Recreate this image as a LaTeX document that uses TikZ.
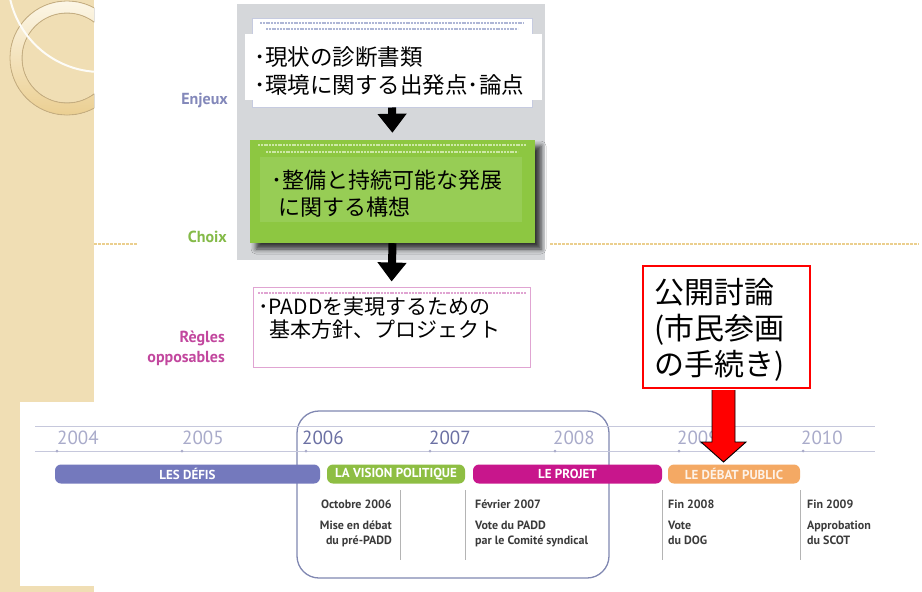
\documentclass[tikz,border=0pt]{standalone}
\usepackage{fontspec}
\setmainfont{PT Sans}
\newfontfamily\jp{Noto Sans CJK JP}
\usetikzlibrary{arrows.meta,shadows.blur,calc}
\definecolor{beige}{HTML}{F0DEB4}
\definecolor{ringlight}{HTML}{FCF6E6}
\definecolor{ringdark}{HTML}{EBCF92}
\definecolor{ringline}{HTML}{C6AE80}
\definecolor{goldline}{HTML}{EBCF8E}
\definecolor{panelgray}{HTML}{D5D7DA}
\definecolor{boxline}{HTML}{C6CBE0}
\definecolor{blurblue}{HTML}{AEB6D6}
\definecolor{greenbox}{HTML}{8DC741}
\definecolor{greeninner}{HTML}{97CD55}
\definecolor{blurgreen}{HTML}{CDE8A6}
\definecolor{enjeuxc}{HTML}{8388BA}
\definecolor{choixc}{HTML}{84BA48}
\definecolor{reglesc}{HTML}{C2479E}
\definecolor{pinkbox}{HTML}{E0A4D2}
\definecolor{tlline}{HTML}{C6C8DC}
\definecolor{yearlight}{HTML}{A9ABCA}
\definecolor{yeardark}{HTML}{6B70A3}
\definecolor{defisc}{HTML}{7479BD}
\definecolor{visionc}{HTML}{8EBE43}
\definecolor{projetc}{HTML}{C8168C}
\definecolor{debatc}{HTML}{F4A964}
\definecolor{framec}{HTML}{8188B2}
\definecolor{textdark}{HTML}{3B3B3B}
\definecolor{sepc}{HTML}{B4B4B4}
\begin{document}
\begin{tikzpicture}[x=1pt,y=-1pt,
  jptext/.style={inner sep=0pt, anchor=west, align=left, text=black, font=\jp\fontsize{21}{25}\selectfont},
  sidelabel/.style={inner sep=0pt, anchor=east, align=right, font=\bfseries\fontsize{16}{20}\selectfont},
  bigarrow/.style={line width=8pt, black, -{Triangle[width=28pt,length=19pt]}},
  bar/.style={rectangle, rounded corners=6pt, inner sep=0pt, minimum height=19pt, text=white, font=\bfseries\fontsize{13}{13}\selectfont},
  year/.style={inner sep=0pt, anchor=west, font=\fontsize{19}{19}\selectfont},
  datet/.style={inner sep=0pt, text=textdark, font=\bfseries\fontsize{12}{12}\selectfont},
  desct/.style={inner sep=0pt, text=textdark, font=\bfseries\fontsize{12}{14.5}\selectfont},
  sep/.style={sepc, line width=0.8pt},
  blurline/.style={line width=2.2pt, dash pattern=on 2pt off 0.8pt}
]
\useasboundingbox (0,0) rectangle (922,592);
\fill[white] (0,0) rectangle (922,592);
% left strip and ornament
\fill[beige] (0,0) rectangle (94,592);
\begin{scope}
  \clip (0,0) rectangle (94,592);
  \fill[even odd rule, top color=ringlight, bottom color=ringdark] (67,58) circle[radius=57] (67,58) circle[radius=45];
  \draw[ringline, line width=0.8pt] (67,58) circle[radius=57] (67,58) circle[radius=45];
  \draw[white!90!beige, line width=2pt] (101,-21) circle[radius=93];
\end{scope}
\draw[goldline, line width=1.2pt, dash pattern=on 3pt off 1pt] (94,244) -- (138,244);
\draw[goldline, line width=1.2pt, dash pattern=on 3pt off 1pt] (550,244) -- (919,244);
% gray panel
\node[rectangle, fill=panelgray, inner sep=0pt, minimum width=308pt, minimum height=256pt] (panel) at (391,132) {};
\node[rectangle, fill=white, draw=boxline, line width=1pt, inner sep=0pt, minimum width=280pt, minimum height=89pt] (enjeuxbox) at (392,62.5) {};
\draw[blurline, blurblue] (260,23) -- (524,23);
\draw[blurline, blurblue] (266,29) -- (518,29);
\node[rectangle, fill=white, inner sep=0pt, minimum width=297pt, minimum height=66pt] (enjeuxcover) at (393.5,67) {};
\node[jptext, font=\jp\fontsize{22.5}{28}\selectfont] (enjeuxtxt) at (254,71) {･現状の診断書類\\･環境に関する出発点･論点};
% green box
\node[rectangle, fill=greenbox, inner sep=0pt, minimum width=285pt, minimum height=103pt,
  blur shadow={shadow xshift=6pt, shadow yshift=-6pt, shadow opacity=75, shadow blur radius=5pt}] (choixbox) at (392.5,191.5) {};
\draw[blurline, blurgreen] (258,145) -- (526,145);
\draw[blurline, blurgreen] (266,152) -- (518,152);
\node[rectangle, fill=greeninner, inner sep=0pt, minimum width=262pt, minimum height=65pt] (choixinner) at (391,189.5) {};
\node[jptext, font=\jp\fontsize{22}{27}\selectfont] (choixtxt) at (271,193.5) {･整備と持続可能な発展\\\hspace*{7pt}に関する構想};
% pink box
\node[rectangle, fill=white, draw=pinkbox, line width=1pt, inner sep=0pt, minimum width=277pt, minimum height=80pt] (reglesbox) at (391.5,327) {};
\draw[blurline, pinkbox] (258,293) -- (526,293);
\node[jptext, font=\jp\fontsize{21}{23}\selectfont] (reglestxt) at (258,318) {･PADDを実現するための\\\hspace*{11pt}基本方針、プロジェクト};
% arrows
\draw[bigarrow, shorten >=7pt] (enjeuxbox.south) -- (choixbox.north);
\draw[bigarrow, shorten >=5pt] (choixbox.south) -- (reglesbox.north);
% side labels
\node[sidelabel, text=enjeuxc] (enjeuxlab) at (228,100) {Enjeux};
\node[sidelabel, text=choixc] (choixlab) at (227,237) {Choix};
\node[sidelabel, text=reglesc] (regleslab) at (225,348) {Règles\\opposables};
% timeline
\fill[white] (20,402) rectangle (880,586);
\draw[framec, line width=1.3pt, rounded corners=22pt] (297,411) rectangle (609,578);
\coordinate (tla) at (35,426);
\coordinate (tlb) at (875,426);
\coordinate (tlc) at (35,451);
\coordinate (tld) at (875,451);
\draw[tlline, line width=1pt] (tla) -- (tlb);
\draw[tlline, line width=1pt] (tlc) -- (tld);
\foreach \x in {57,182,306,430,555,679,803} \fill[yearlight] (\x,451) circle[radius=1.5];
\node[year, text=yearlight] (y2004) at (57,438) {2004};
\node[year, text=yearlight] (y2005) at (182,438) {2005};
\node[year, text=yeardark] (y2006) at (302,438) {2006};
\node[year, text=yeardark] (y2007) at (429,438) {2007};
\node[year, text=yearlight] (y2008) at (553,438) {2008};
\node[year, text=yearlight] (y2009) at (677,438) {2009};
\node[year, text=yearlight] (y2010) at (801,438) {2010};
\node[bar, fill=defisc, minimum width=265pt] (defis) at (187.5,474) {LES DÉFIS};
\node[bar, fill=visionc, minimum width=138pt] (vision) at (396,474) {LA VISION POLITIQUE};
\node[bar, fill=projetc, minimum width=189pt] (projet) at (567.5,474) {LE PROJET};
\node[bar, fill=debatc, minimum width=132pt, text=white!85!debatc] (debat) at (734,474) {LE DÉBAT PUBLIC};
\draw[sep] (400,490) -- (400,560);
\draw[sep] (465,490) -- (465,560);
\draw[sep] (662,490) -- (662,560);
\draw[sep] (800,490) -- (800,560);
\node[datet, anchor=east] (d1) at (392,504) {Octobre 2006};
\node[desct, anchor=north east, align=right] (t1) at (392,521) {Mise en débat\\du pré-PADD};
\node[datet, anchor=west] (d2) at (475,504) {Février 2007};
\node[desct, anchor=north west, align=left] (t2) at (475,521) {Vote du PADD\\par le Comité syndical};
\node[datet, anchor=west] (d3) at (668,504) {Fin 2008};
\node[desct, anchor=north west, align=left] (t3) at (668,521) {Vote\\du DOG};
\node[datet, anchor=west] (d4) at (807,504) {Fin 2009};
\node[desct, anchor=north west, align=left] (t4) at (807,521) {Approbation\\du SCOT};
% callout
\node[rectangle, fill=white, draw=red, line width=2pt, inner sep=0pt, minimum width=167pt, minimum height=122pt] (callout) at (726.5,327) {};
\node[jptext, font=\jp\fontsize{30}{36}\selectfont] (callouttxt) at (654,329.5) {公開討論\\(市民参画\\の手続き)};
\coordinate (rtop) at ($(callout.south)+(-3,1)$);
\coordinate (rtip) at (723.5,462);
\draw[fill=red, draw=black, line width=0.9pt, line join=miter]
  ($(rtop)+(-11.5,0)$) -- ($(rtop)+(-11.5,52)$) -- ($(rtop)+(-22.5,52)$) -- (rtip)
  -- ($(rtop)+(22.5,52)$) -- ($(rtop)+(11.5,52)$) -- ($(rtop)+(11.5,0)$);
\end{tikzpicture}
\end{document}
